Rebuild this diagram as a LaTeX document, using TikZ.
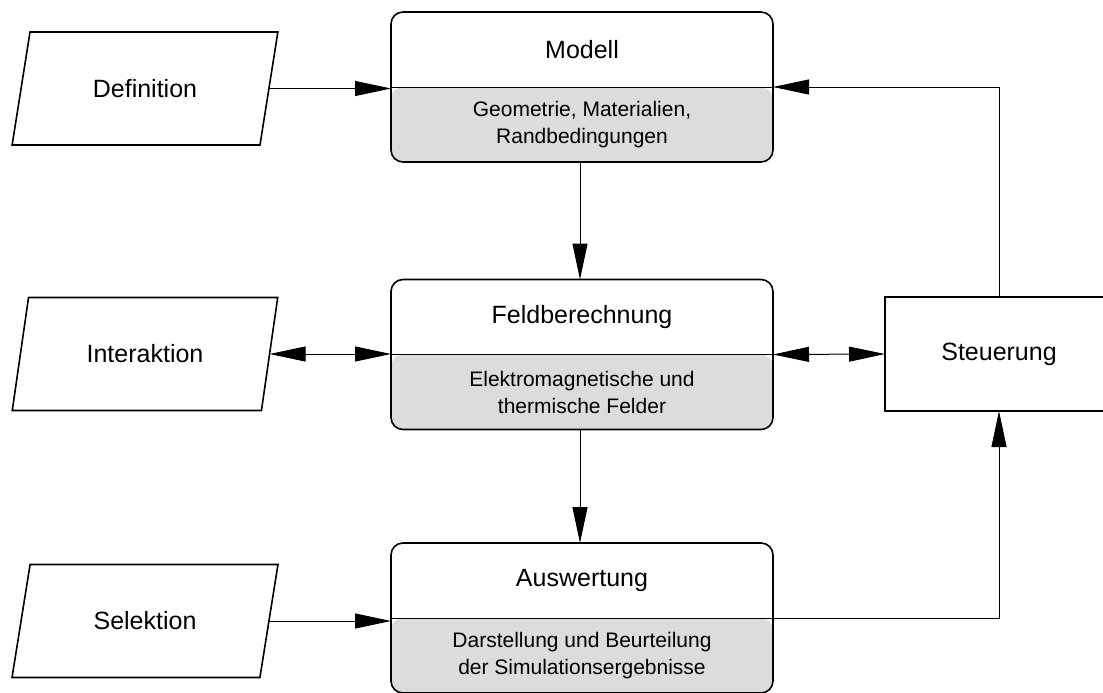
\documentclass[tikz,border=0pt]{standalone}
\usepackage{fontspec}
\setmainfont{Liberation Sans}
\usetikzlibrary{shapes.geometric,arrows.meta,calc}
\definecolor{boxgray}{RGB}{220,220,220}
\begin{document}
\begin{tikzpicture}[x=1pt,y=-1pt,
  conn/.style={line width=1pt},
  arr/.style={conn, -{Triangle[length=36pt,width=15pt]}},
  darr/.style={conn, {Triangle[length=36pt,width=15pt]}-{Triangle[length=36pt,width=15pt]}},
  titlefont/.style={font=\fontsize{25}{30}\selectfont},
  subfont/.style={font=\fontsize{21}{27}\selectfont, align=center},
  stage/.style={draw, line width=1.6pt, rounded corners=12pt, minimum width=382pt, minimum height=150pt,
    outer sep=0pt,
    path picture={
      \fill[boxgray] (path picture bounding box.west) rectangle (path picture bounding box.south east);
      \draw[line width=1pt] (path picture bounding box.west) -- (path picture bounding box.east);
    }},
  io/.style={draw, line width=1.6pt, trapezium, trapezium left angle=71, trapezium right angle=109,
    trapezium stretches=true, minimum width=266pt, minimum height=113pt,
    outer sep=0pt, titlefont},
  ctrl/.style={draw, line width=1.6pt, minimum width=228pt, minimum height=114pt, outer sep=0pt, titlefont}
]
\useasboundingbox (0,0) rectangle (1103,693);

% processing stages
\node[stage] (model) at (582,87) {};
\node[stage] (feld)  at (582,354.5) {};
\node[stage] (ausw)  at (582,618) {};

\node[titlefont] (modelT) at ($(model.north)!0.5!(model.center)$) {Modell};
\node[subfont]   (modelS) at ($(model.south)!0.5!(model.center)$) {Geometrie, Materialien,\\Randbedingungen};
\node[titlefont] (feldT)  at ($(feld.north)!0.5!(feld.center)$) {Feldberechnung};
\node[subfont]   (feldS)  at ($(feld.south)!0.5!(feld.center)$) {Elektromagnetische und\\thermische Felder};
\node[titlefont] (auswT)  at ($(ausw.north)!0.5!(ausw.center)$) {Auswertung};
\node[subfont]   (auswS)  at ($(ausw.south)!0.5!(ausw.center)$) {Darstellung und Beurteilung\\der Simulationsergebnisse};

% user inputs
\node[io] (def) at (145,88.5)  {Definition};
\node[io] (inter) at (145,354) {Interaktion};
\node[io] (sel) at (145,621)  {Selektion};

% control (its right part runs past the page edge)
\node[ctrl] (steu) at (999,354) {Steuerung};

% connections
\draw[arr] (def.east) -- (def.east -| model.west);
\draw[darr] (inter.east) -- (inter.east -| feld.west);
\draw[arr] (sel.east) -- (sel.east -| ausw.west);

\draw[arr] ([xshift=-2pt]model.south) -- ([xshift=-2pt]feld.north);
\draw[arr] ([xshift=-2pt]feld.south) -- ([xshift=-2pt]ausw.north);

\draw[darr] (feld.east) -- (steu.west);
\draw[arr] (steu.north) |- (model.east);
\draw[arr] (ausw.east) -| (steu.south);
\end{tikzpicture}
\end{document}
